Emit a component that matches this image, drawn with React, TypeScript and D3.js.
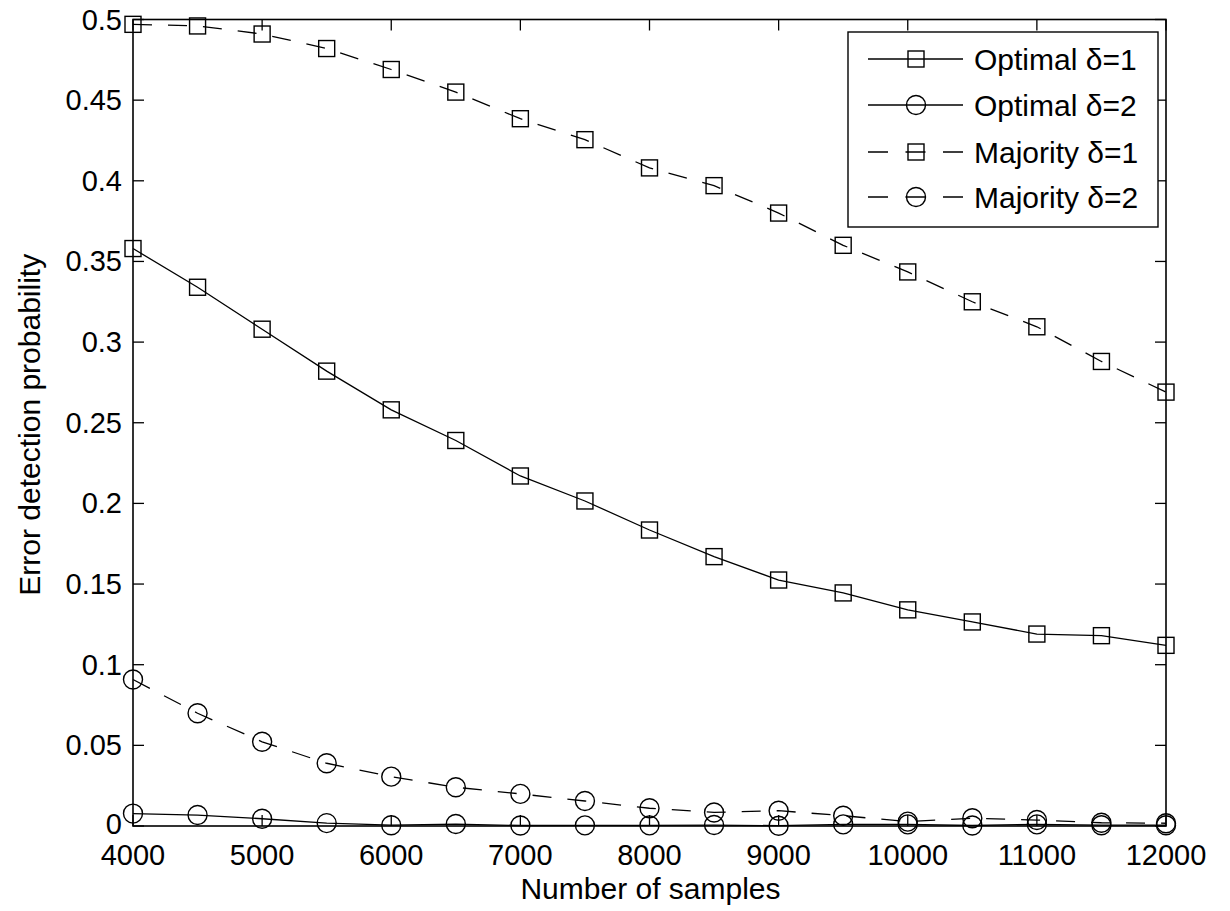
import { useRef, useEffect } from "react";
import * as d3 from "d3";

const samples = [
  4000, 4500, 5000, 5500, 6000, 6500, 7000, 7500, 8000, 8500, 9000, 9500,
  10000, 10500, 11000, 11500, 12000,
];

const optimalD1 = [
  0.358, 0.334, 0.308, 0.282, 0.258, 0.239, 0.217, 0.2015, 0.1835, 0.167,
  0.1525, 0.1445, 0.134, 0.1265, 0.119, 0.118, 0.112,
];
const optimalD2 = [
  0.0077, 0.0068, 0.0045, 0.0018, 0.0005, 0.0012, 0.0003, 0.0004, 0.0004,
  0.0006, 0.0002, 0.001, 0.001, 0.0003, 0.001, 0.0005, 0.0005,
];
const majorityD1 = [
  0.497, 0.496, 0.491, 0.482, 0.469, 0.455, 0.4385, 0.4255, 0.408, 0.397,
  0.38, 0.36, 0.3435, 0.325, 0.3095, 0.288, 0.269,
];
const majorityD2 = [
  0.0908, 0.0699, 0.0522, 0.0389, 0.0306, 0.024, 0.0199, 0.0155, 0.011,
  0.0084, 0.0095, 0.0064, 0.0027, 0.0048, 0.0037, 0.002, 0.0017,
];

const xTicks = [4000, 5000, 6000, 7000, 8000, 9000, 10000, 11000, 12000];
const yTicks = [0, 0.05, 0.1, 0.15, 0.2, 0.25, 0.3, 0.35, 0.4, 0.45, 0.5];

const seriesNames = ["Optimal δ=1", "Optimal δ=2", "Majority δ=1", "Majority δ=2"];
const seriesValues = [optimalD1, optimalD2, majorityD1, majorityD2];
const seriesMarkers = ["square", "circle", "square", "circle"];
const seriesDashed = [false, false, true, true];

const FONT = "'Liberation Sans', Arial, sans-serif";

export default function App() {
  const svgRef = useRef<SVGSVGElement>(null);

  useEffect(() => {
    if (!svgRef.current) return;
    const svg = d3.select(svgRef.current);
    svg.selectAll("*").remove();

    const left = 133;
    const right = 1166;
    const top = 19.5;
    const bottom = 826;
    const tickLen = 11;

    const x = d3.scaleLinear().domain([4000, 12000]).range([left, right]);
    const y = d3.scaleLinear().domain([0, 0.5]).range([bottom, top]);

    svg
      .append("rect")
      .attr("width", 1230)
      .attr("height", 911)
      .attr("fill", "#ffffff");

    // ticks on all four sides, pointing in
    const tg = svg.append("g").attr("stroke", "#000").attr("stroke-width", 1.3);
    xTicks.forEach((t) => {
      tg.append("line").attr("x1", x(t)).attr("x2", x(t)).attr("y1", bottom).attr("y2", bottom - tickLen);
      tg.append("line").attr("x1", x(t)).attr("x2", x(t)).attr("y1", top).attr("y2", top + tickLen);
    });
    yTicks.forEach((t) => {
      tg.append("line").attr("x1", left).attr("x2", left + tickLen).attr("y1", y(t)).attr("y2", y(t));
      tg.append("line").attr("x1", right).attr("x2", right - tickLen).attr("y1", y(t)).attr("y2", y(t));
    });

    // box
    svg
      .append("rect")
      .attr("x", left)
      .attr("y", top)
      .attr("width", right - left)
      .attr("height", bottom - top)
      .attr("fill", "none")
      .attr("stroke", "#000")
      .attr("stroke-width", 1.6);

    // tick labels
    const labels = svg.append("g").attr("font-family", FONT).attr("font-size", 29).attr("fill", "#000");
    xTicks.forEach((t) => {
      labels.append("text").attr("x", x(t)).attr("y", 865).attr("text-anchor", "middle").text(String(t));
    });
    yTicks.forEach((t) => {
      labels
        .append("text")
        .attr("x", 122)
        .attr("y", y(t) + (t === 0 ? 8 : 10))
        .attr("text-anchor", "end")
        .text(String(+t.toFixed(2)));
    });

    // axis titles
    svg
      .append("text")
      .attr("x", (left + right) / 2 + 1)
      .attr("y", 899)
      .attr("text-anchor", "middle")
      .attr("font-family", FONT)
      .attr("font-size", 30)
      .text("Number of samples");

    svg
      .append("text")
      .attr("transform", `translate(40,${(top + bottom) / 2 + 2}) rotate(-90)`)
      .attr("text-anchor", "middle")
      .attr("font-family", FONT)
      .attr("font-size", 30)
      .text("Error detection probability");

    const drawMarker = (
      g: d3.Selection<SVGGElement, unknown, null, undefined>,
      kind: string,
      cx: number,
      cy: number,
    ) => {
      if (kind === "square") {
        g.append("rect")
          .attr("x", cx - 8)
          .attr("y", cy - 8)
          .attr("width", 16)
          .attr("height", 16)
          .attr("fill", "none")
          .attr("stroke", "#000")
          .attr("stroke-width", 1.4);
      } else {
        g.append("circle")
          .attr("cx", cx)
          .attr("cy", cy)
          .attr("r", 9.5)
          .attr("fill", "none")
          .attr("stroke", "#000")
          .attr("stroke-width", 1.4);
      }
    };

    const line = d3
      .line<number>()
      .x((_, i) => x(samples[i]))
      .y((d) => y(d));

    seriesValues.forEach((vals, si) => {
      const g = svg.append("g");
      g.append("path")
        .datum(vals)
        .attr("d", line)
        .attr("fill", "none")
        .attr("stroke", "#000")
        .attr("stroke-width", 1.3)
        .attr("stroke-dasharray", seriesDashed[si] ? "19 16" : null);
      vals.forEach((v, i) => drawMarker(g, seriesMarkers[si], x(samples[i]), y(v)));
    });

    // legend
    const lg = svg.append("g");
    lg.append("rect")
      .attr("x", 848)
      .attr("y", 32)
      .attr("width", 310)
      .attr("height", 195)
      .attr("fill", "#fff")
      .attr("stroke", "#000")
      .attr("stroke-width", 1.4);
    const rowY = [59, 105, 152, 197];
    seriesNames.forEach((name, si) => {
      const ry = rowY[si];
      lg.append("line")
        .attr("x1", 868)
        .attr("x2", 963)
        .attr("y1", ry)
        .attr("y2", ry)
        .attr("stroke", "#000")
        .attr("stroke-width", 1.3)
        .attr("stroke-dasharray", seriesDashed[si] ? "20 17.5" : null);
      drawMarker(lg, seriesMarkers[si], 916, ry);
      lg.append("text")
        .attr("x", 974)
        .attr("y", ry + 11)
        .attr("font-family", FONT)
        .attr("font-size", 30)
        .text(name);
    });
  }, []);

  return (
    <div style={{ position: "absolute", left: 0, top: 0 }}>
      <svg ref={svgRef} width={1230} height={911} style={{ display: "block" }} />
    </div>
  );
}
